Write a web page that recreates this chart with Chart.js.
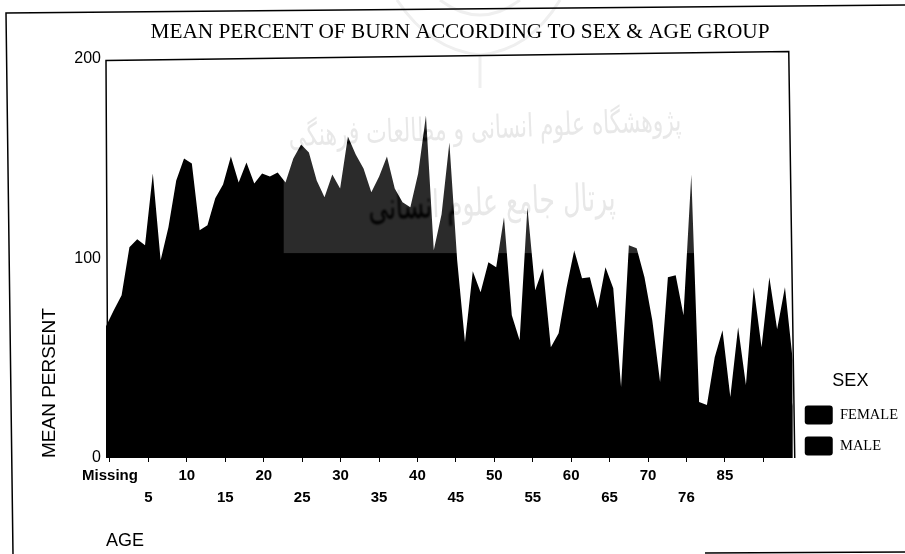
<!DOCTYPE html>
<html>
<head>
<meta charset="utf-8">
<title>Mean percent of burn</title>
<script src="https://cdn.jsdelivr.net/npm/chart.js@4"></script>
<style>
    html, body { margin: 0; padding: 0; background: #fff; }
    canvas { display: block; }
</style>
</head>
<body>
<canvas id="chart" width="905" height="554"></canvas>
<script>
// Age groups, one per point along the area
const categories = [
    'Missing', '1', '2', '3', '4', '5', '6', '7', '8', '9',
    '10', '11', '12', '13', '14', '15', '16', '17', '18', '19',
    '20', '21', '22', '23', '24', '25', '26', '27', '28', '29',
    '30', '31', '32', '33', '34', '35', '36', '37', '38', '39',
    '40', '41', '42', '43', '44', '45', '46', '47', '48', '49',
    '50', '51', '52', '53', '54', '55', '56', '57', '58', '59',
    '60', '61', '62', '63', '64', '65', '66', '67', '68', '69',
    '70', '71', '72', '73', '74', '76', '77', '78', '80', '82',
    '85', '86', '87', '88', '89', '90', '91', '92', '93'
];

// Upper outline of the stacked areas
const stackTop = [
    66, 74, 81.5, 105.5, 109.5, 106.5, 142.5, 99, 115.5, 139,
    150, 147.5, 114, 116.5, 130, 137, 151, 138, 148, 137.5,
    142.5, 141, 143, 138, 150, 157, 153, 139, 130.5, 142,
    135, 161, 152, 145, 133, 141, 151, 135, 128, 125.5,
    142.5, 171.5, 104, 122, 158, 99, 58, 93.5, 83, 98,
    95.5, 120.5, 71.5, 59, 125.5, 84, 95, 55.5, 62.5, 85,
    104, 90, 90.5, 75, 95.5, 85, 35.5, 106.5, 105, 90.5,
    69, 38, 90.5, 91.5, 71.5, 142, 28, 26.5, 50.5, 64,
    30.5, 65.5, 36.5, 85.5, 55.5, 90.5, 64.5, 85.5, 49
];

// Both series are solid black, so this split is only a rough estimate
const femaleValues = [
    38, 42, 46, 70, 84, 90, 92, 84, 86, 88,
    92, 94, 90, 88, 86, 90, 94, 92, 90, 88,
    92, 90, 88, 86, 84, 88, 86, 80, 76, 80,
    78, 84, 82, 78, 74, 76, 80, 74, 70, 68,
    76, 88, 58, 66, 84, 52, 32, 50, 44, 52,
    50, 62, 38, 32, 64, 44, 50, 30, 34, 44,
    54, 46, 48, 40, 50, 44, 20, 56, 54, 48,
    36, 20, 48, 48, 38, 72, 14, 14, 26, 34,
    16, 34, 18, 44, 28, 46, 34, 44, 26
];
const maleValues = stackTop.map((top, i) => top - femaleValues[i]);

// X axis ticks sit on their own slightly different spacing in the scan
const tickPositions = [0, 5, 10, 15, 20, 25, 30, 35, 40, 45, 50, 55, 60, 65, 70, 75, 80, 85];
const tickLabels = ['Missing', '5', '10', '15', '20', '25', '30', '35', '40', '45', '50', '55', '60', '65', '70', '76', '85', ''];

const watermarkLines = ['پژوهشگاه علوم انسانی و مطالعات فرهنگی', 'پرتال جامع علوم انسانی'];

const SANS = '"Liberation Sans", Arial, sans-serif';
const SERIF = '"Liberation Serif", "Times New Roman", serif';

function drawWatermark(ctx, color) {
    ctx.fillStyle = color;
    ctx.direction = 'rtl';
    ctx.textAlign = 'center';
    ctx.textBaseline = 'middle';

    ctx.save();
    ctx.translate(485, 130);
    ctx.rotate(-0.04);
    ctx.scale(0.68, 1);
    ctx.font = '32px "DejaVu Sans"';
    ctx.fillText(watermarkLines[0], 0, 0);
    ctx.restore();

    ctx.save();
    ctx.translate(492, 205);
    ctx.rotate(-0.04);
    ctx.scale(0.65, 1);
    ctx.font = '38px "DejaVu Sans"';
    ctx.fillText(watermarkLines[1], 0, 0);
    ctx.restore();
}

// Scan artefacts: the lighter band over the fill, and the faint stamp
const scanPlugin = {
    id: 'scan',
    afterDatasetsDraw(chart) {
        const { ctx, chartArea, scales } = chart;
        const bandLeft = scales.x.getPixelForValue(23) - 2;
        const bandBottom = scales.y.getPixelForValue(102.5);
        const bandWidth = chartArea.right + 10 - bandLeft;
        const bandHeight = bandBottom - chartArea.top;

        ctx.save();
        ctx.beginPath();
        ctx.rect(bandLeft, chartArea.top, bandWidth, bandHeight);
        ctx.clip();
        ctx.globalCompositeOperation = 'source-atop';
        ctx.fillStyle = '#2b2b2b';
        ctx.fillRect(bandLeft, chartArea.top, bandWidth, bandHeight);
        ctx.filter = 'blur(1px)';
        drawWatermark(ctx, '#000');
        ctx.restore();

        ctx.save();
        ctx.globalCompositeOperation = 'destination-over';
        drawWatermark(ctx, '#e8e8e8');
        ctx.strokeStyle = '#efefef';
        ctx.lineWidth = 3;
        ctx.beginPath();
        ctx.moveTo(397, 0);
        ctx.quadraticCurveTo(430, 50, 480, 55);
        ctx.quadraticCurveTo(530, 50, 560, 0);
        ctx.moveTo(480, 55);
        ctx.lineTo(480, 88);
        ctx.moveTo(440, 0);
        ctx.quadraticCurveTo(480, 30, 520, 0);
        ctx.stroke();
        ctx.restore();
    }
};

// Page frame and plot box, slightly skewed like the scanned page
const framePlugin = {
    id: 'frame',
    afterDraw(chart) {
        const { ctx, chartArea } = chart;
        ctx.save();
        ctx.strokeStyle = '#000';
        ctx.lineWidth = 1.5;

        ctx.beginPath();
        ctx.moveTo(13, 554);
        ctx.lineTo(6, 13);
        ctx.lineTo(905, 5);
        ctx.moveTo(705, 553);
        ctx.lineTo(905, 552);
        ctx.stroke();

        ctx.beginPath();
        ctx.moveTo(chartArea.left + 2, chartArea.bottom);
        ctx.lineTo(chartArea.left, chartArea.top + 2);
        ctx.lineTo(chartArea.right - 4, chartArea.top - 7);
        ctx.lineTo(chartArea.right + 2, chartArea.bottom);
        ctx.stroke();
        ctx.restore();
    }
};

new Chart(document.getElementById('chart'), {
    type: 'line',
    data: {
        labels: categories,
        datasets: [
            {
                label: 'FEMALE',
                data: femaleValues,
                backgroundColor: '#000',
                borderColor: '#000',
                borderWidth: 0,
                pointRadius: 0,
                tension: 0,
                fill: 'origin'
            },
            {
                label: 'MALE',
                data: maleValues,
                backgroundColor: '#000',
                borderColor: '#000',
                borderWidth: 0,
                pointRadius: 0,
                tension: 0,
                fill: 'origin'
            }
        ]
    },
    options: {
        responsive: false,
        animation: false,
        layout: {
            padding: { left: 12, right: -3, top: 0, bottom: 0 }
        },
        plugins: {
            tooltip: { enabled: false },
            title: {
                display: true,
                text: 'MEAN PERCENT OF BURN ACCORDING TO SEX & AGE GROUP',
                color: '#000',
                font: { family: SERIF, size: 21.3, weight: 'normal' },
                padding: { top: 20, bottom: 13 }
            },
            legend: {
                position: 'right',
                align: 'start',
                title: {
                    display: true,
                    text: 'SEX',
                    color: '#000',
                    font: { family: SANS, size: 18 },
                    padding: { top: 372, bottom: 0 }
                },
                labels: {
                    color: '#000',
                    font: { family: SERIF, size: 14.5 },
                    boxWidth: 28,
                    boxHeight: 19,
                    padding: 12,
                    useBorderRadius: true,
                    borderRadius: 3
                }
            }
        },
        scales: {
            x: {
                type: 'category',
                display: false,
                stacked: true,
                offset: false
            },
            xAge: {
                type: 'linear',
                axis: 'x',
                position: 'bottom',
                min: -0.52,
                max: 88.83,
                afterBuildTicks: scale => {
                    scale.ticks = tickPositions.map(value => ({ value }));
                },
                afterFit: scale => {
                    scale.height = 96;
                },
                grid: {
                    drawOnChartArea: false,
                    color: '#000',
                    tickLength: 4
                },
                border: { display: false },
                ticks: {
                    color: '#000',
                    autoSkip: false,
                    maxRotation: 0,
                    padding: 3,
                    font: { family: SANS, size: 15, weight: 'bold', lineHeight: 1.45 },
                    callback: (value, index) => index % 2 ? ['', tickLabels[index]] : tickLabels[index]
                },
                title: {
                    display: true,
                    text: 'AGE',
                    align: 'start',
                    color: '#000',
                    font: { family: SANS, size: 18 },
                    padding: { top: 0, bottom: 2 }
                }
            },
            y: {
                stacked: true,
                min: 0,
                max: 200,
                afterFit: scale => {
                    scale.width = 94;
                },
                grid: { display: false, drawTicks: false },
                border: { display: false },
                ticks: {
                    stepSize: 100,
                    color: '#000',
                    padding: 5,
                    font: { family: SANS, size: 16 }
                },
                title: {
                    display: true,
                    text: 'MEAN PERSENT',
                    align: 'start',
                    color: '#000',
                    font: { family: SANS, size: 19 },
                    padding: { top: 26, bottom: 0 }
                }
            }
        }
    },
    plugins: [scanPlugin, framePlugin]
});
</script>
</body>
</html>
